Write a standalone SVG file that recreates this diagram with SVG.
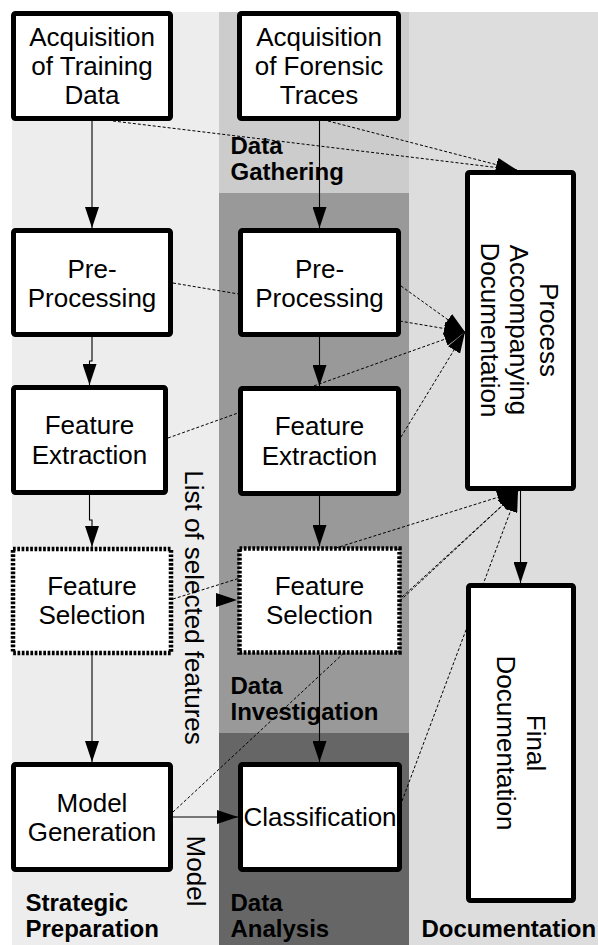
<svg xmlns="http://www.w3.org/2000/svg" width="598" height="945" viewBox="0 0 598 945">
  <style>
    .node { fill: #ffffff; stroke: #000000; stroke-width: 5; }
    .dotted { fill: #ffffff; stroke: #000000; stroke-width: 4.5; stroke-dasharray: 2.7 1.6; }
    .txt { font-family: "Liberation Sans", Arial, sans-serif; font-size: 26px; fill: #000000; }
    .lbl { font-family: "Liberation Sans", Arial, sans-serif; font-size: 24px; font-weight: bold; fill: #000000; }
    .flow { fill: none; stroke: #000000; stroke-width: 1.1; }
    .doc { fill: none; stroke: #000000; stroke-width: 1; stroke-dasharray: 3 2; }
  </style>
  <defs>
    <marker id="arrow" viewBox="0 0 21 14" refX="21" refY="7" markerWidth="21" markerHeight="14" markerUnits="userSpaceOnUse" orient="auto">
      <path d="M0,0 L21,7 L0,14 z" fill="#000000"/>
    </marker>
  </defs>

  <!-- swim lanes -->
  <g id="lanes">
    <rect x="12" y="12" width="207" height="933" fill="#ededed"/>
    <rect x="409" y="12" width="189" height="933" fill="#dddddd"/>
    <rect x="219" y="12" width="190" height="181" fill="#cccccc"/>
    <rect x="219" y="193" width="190" height="540" fill="#999999"/>
    <rect x="219" y="733" width="190" height="212" fill="#666666"/>
  </g>

  <!-- lane and edge labels -->
  <g id="labels">
    <text class="lbl" x="230.5"><tspan x="230.5" y="154">Data</tspan><tspan x="230.5" y="180">Gathering</tspan></text>
    <text class="lbl" x="230.5"><tspan x="230.5" y="693.5">Data</tspan><tspan x="230.5" y="720">Investigation</tspan></text>
    <text class="lbl" x="230.5"><tspan x="230.5" y="910.5">Data</tspan><tspan x="230.5" y="936.5">Analysis</tspan></text>
    <text class="lbl" x="25.5"><tspan x="25.5" y="910.5">Strategic</tspan><tspan x="25.5" y="936.5">Preparation</tspan></text>
    <text class="lbl" x="421.5" y="936.5">Documentation</text>
    <text class="txt" text-anchor="middle" transform="translate(185,607.5) rotate(90)">List of selected features</text>
    <text class="txt" text-anchor="middle" transform="translate(186.5,871) rotate(90)">Model</text>
  </g>

  <!-- connectors -->
  <g id="connectors">
    <path class="flow" d="M92,121 V228" marker-end="url(#arrow)"/>
    <path class="flow" d="M319.5,121 V228" marker-end="url(#arrow)"/>
    <path class="flow" d="M92,337 V361 H89.5 V385" marker-end="url(#arrow)"/>
    <path class="flow" d="M319.5,337 V386" marker-end="url(#arrow)"/>
    <path class="flow" d="M89.5,495 V520 H92 V547" marker-end="url(#arrow)"/>
    <path class="flow" d="M319.5,496 V546" marker-end="url(#arrow)"/>
    <path class="flow" d="M92,655 V762" marker-end="url(#arrow)"/>
    <path class="flow" d="M319.5,655 V762" marker-end="url(#arrow)"/>
    <path class="flow" d="M173,817 H238" marker-end="url(#arrow)"/>
    <path d="M173,600 H237" fill="none" stroke="none" marker-end="url(#arrow)"/>
    <path class="flow" d="M520.5,491 V583" marker-end="url(#arrow)"/>

    <path class="doc" d="M113,121 L517,170" marker-end="url(#arrow)"/>
    <path class="doc" d="M328,121 L517,170" marker-end="url(#arrow)"/>
    <path class="doc" d="M173,283 L465,332" marker-end="url(#arrow)"/>
    <path class="doc" d="M401,286 L465,332" marker-end="url(#arrow)"/>
    <path class="doc" d="M168,438 L465,332" marker-end="url(#arrow)"/>
    <path class="doc" d="M401,437 L465,332" marker-end="url(#arrow)"/>
    <path class="doc" d="M173,599 L518,491" marker-end="url(#arrow)"/>
    <path class="doc" d="M402,597 L518,491" marker-end="url(#arrow)"/>
    <path class="doc" d="M173,812 L518,491" marker-end="url(#arrow)"/>
    <path class="doc" d="M402,801 L518,491" marker-end="url(#arrow)"/>
  </g>

  <!-- process steps -->
  <g id="acq-training">
    <rect class="node" x="13.5" y="13.5" width="157" height="105" rx="2"/>
    <text class="txt" text-anchor="middle"><tspan x="92" y="46">Acquisition</tspan><tspan x="92" y="75">of Training</tspan><tspan x="92" y="104">Data</tspan></text>
  </g>
  <g id="acq-forensic">
    <rect class="node" x="239.5" y="13.5" width="159" height="105" rx="2"/>
    <text class="txt" text-anchor="middle"><tspan x="319" y="46">Acquisition</tspan><tspan x="319" y="75">of Forensic</tspan><tspan x="319" y="104">Traces</tspan></text>
  </g>
  <g id="preproc-training">
    <rect class="node" x="13.5" y="230.5" width="157" height="104" rx="2"/>
    <text class="txt" text-anchor="middle"><tspan x="92" y="277.5">Pre-</tspan><tspan x="92" y="306.5">Processing</tspan></text>
  </g>
  <g id="preproc-forensic">
    <rect class="node" x="240.5" y="230.5" width="158" height="104" rx="2"/>
    <text class="txt" text-anchor="middle"><tspan x="319.5" y="277.5">Pre-</tspan><tspan x="319.5" y="306.5">Processing</tspan></text>
  </g>
  <g id="featext-training">
    <rect class="node" x="13.5" y="387.5" width="152" height="105" rx="2"/>
    <text class="txt" text-anchor="middle"><tspan x="89.5" y="434">Feature</tspan><tspan x="89.5" y="464">Extraction</tspan></text>
  </g>
  <g id="featext-forensic">
    <rect class="node" x="240.5" y="388.5" width="158" height="105" rx="2"/>
    <text class="txt" text-anchor="middle"><tspan x="319.5" y="435">Feature</tspan><tspan x="319.5" y="464.5">Extraction</tspan></text>
  </g>
  <g id="featsel-training">
    <rect class="dotted" x="13" y="549" width="158" height="104"/>
    <text class="txt" text-anchor="middle"><tspan x="92" y="594.5">Feature</tspan><tspan x="92" y="623.5">Selection</tspan></text>
  </g>
  <g id="featsel-forensic">
    <rect class="dotted" x="239.5" y="548.5" width="160" height="104"/>
    <text class="txt" text-anchor="middle"><tspan x="319.5" y="595">Feature</tspan><tspan x="319.5" y="623.5">Selection</tspan></text>
  </g>
  <g id="model-generation">
    <rect class="node" x="13.5" y="764.5" width="157" height="105" rx="2"/>
    <text class="txt" text-anchor="middle"><tspan x="92" y="811.5">Model</tspan><tspan x="92" y="840.5">Generation</tspan></text>
  </g>
  <g id="classification">
    <rect class="node" x="240.5" y="764.5" width="159" height="105" rx="2"/>
    <text class="txt" text-anchor="middle" x="320" y="826">Classification</text>
  </g>
  <g id="process-doc">
    <rect class="node" x="467.5" y="172.5" width="106" height="316" rx="2"/>
    <text class="txt" text-anchor="middle" transform="translate(520.5,330) rotate(90)"><tspan x="0" y="-19">Process</tspan><tspan x="0" y="10.5">Accompanying</tspan><tspan x="0" y="40">Documentation</tspan></text>
  </g>
  <g id="final-doc">
    <rect class="node" x="468.5" y="585.5" width="105" height="315" rx="2"/>
    <text class="txt" text-anchor="middle" transform="translate(521,743) rotate(90)"><tspan x="0" y="-6">Final</tspan><tspan x="0" y="24">Documentation</tspan></text>
  </g>
</svg>
